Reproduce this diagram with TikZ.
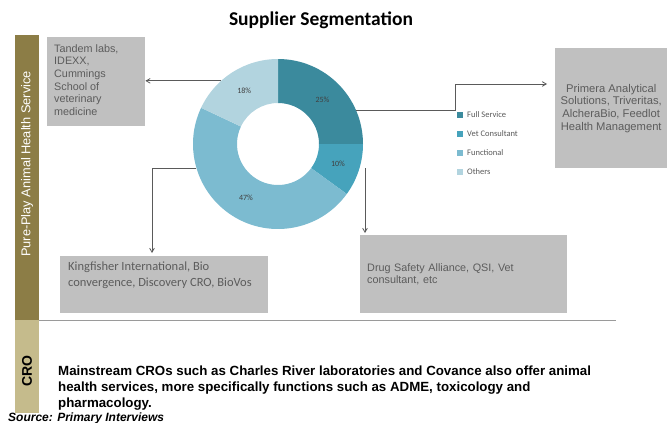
\documentclass[tikz,border=0pt]{standalone}
\usepackage{fontspec}
\setmainfont{Liberation Sans}
\newfontfamily\calibri{Carlito}
\usetikzlibrary{arrows}

\definecolor{barolive}{HTML}{8C7D46}
\definecolor{bartan}{HTML}{C5BB8C}
\definecolor{boxgray}{HTML}{C0C0C0}
\definecolor{boxtxt}{HTML}{5C5C5C}
\definecolor{linkgray}{HTML}{5A5A5A}
\definecolor{sepgray}{HTML}{9A9A9A}
\definecolor{segfull}{HTML}{3B8A9D}
\definecolor{segvet}{HTML}{46A3BC}
\definecolor{segfunc}{HTML}{7CBBD0}
\definecolor{segother}{HTML}{B2D4DF}

\begin{document}
\begin{tikzpicture}[x=1pt, y=-1pt, >=angle 60,
  box/.style={fill=boxgray, inner sep=0pt, anchor=north west},
  boxtext/.style={text=boxtxt, font=\fontsize{10.8}{12.7}\selectfont, align=left, inner sep=0pt},
  link/.style={->, draw=linkgray, line width=0.8pt},
  pct/.style={font=\calibri\fontsize{8}{9}\selectfont, text=black!75},
  legend/.style={font=\calibri\fontsize{8.5}{10}\selectfont, text=black!65, inner sep=0pt}]

\useasboundingbox (0,0) rectangle (667,423);

% title
\node[font=\calibri\bfseries\fontsize{19.5}{22}\selectfont] (title) at (321,20) {Supplier Segmentation};

% side bars
\fill[barolive] (15,35) rectangle (39,320);
\fill[bartan] (15,320) rectangle (39,413);
\node[rotate=90, text=white, font=\fontsize{12.8}{14}\selectfont] (pureplay) at (27,164) {Pure-Play Animal Health Service};
\node[rotate=90, font=\bfseries\fontsize{14}{16}\selectfont] (cro) at (27,371) {CRO};
\draw[sepgray, line width=0.9pt] (39,320) -- (616,320);

% donut
\coordinate (c) at (278,144);
\foreach \a/\b/\col/\p in {-90/0/segfull/25, 0/36/segvet/10, 36/205.2/segfunc/47, 205.2/270/segother/18}{
  \fill[\col] ([shift={(\a:85)}]c) arc[start angle=\a, end angle=\b, radius=85]
    -- ([shift={(\b:41)}]c) arc[start angle=\b, end angle=\a, radius=41] -- cycle;
  \node[pct] at ([shift={({(\a+\b)/2}:63)}]c) {\p\%};
}
\coordinate (fulledge) at ([shift={(-23:85)}]c);
\coordinate (otheredge) at ([shift={(228:85)}]c);
\coordinate (funcedge) at ([shift={(163.6:85)}]c);
\coordinate (vetstart) at (365,168);

% legend
\foreach \col/\name [count=\i] in {segfull/Full Service, segvet/Vet Consultant, segfunc/Functional, segother/Others}{
  \node[fill=\col, minimum size=6pt, inner sep=0pt] (key\i) at (460,{96+19*\i}) {};
  \node[legend, anchor=west] (keytext\i) at (467,{96+19*\i}) {\name};
}

% supplier boxes
\node[box, minimum width=98pt, minimum height=89pt] (tandem) at (47,37) {};
\node[boxtext, anchor=north west] (tandemtext) at ([shift={(7,7)}]tandem.north west)
  {Tandem labs,\\IDEXX,\\Cummings\\School of\\veterinary\\medicine};
\node[box, boxtext, align=center, font=\fontsize{11.2}{12.7}\selectfont, minimum width=112pt, minimum height=120pt] (primera) at (555,48)
  {Primera Analytical\\Solutions, Triveritas,\\AlcheraBio, Feedlot\\Health Management};
\node[box, boxtext, text width=193pt, minimum width=207pt, minimum height=78pt] (drug) at (360,235)
  {Drug Safety Alliance, QSI, Vet\\consultant, etc};
\node[box, minimum width=208pt, minimum height=57pt] (king) at (60,256) {};
\node[boxtext, font=\calibri\fontsize{12.5}{16}\selectfont, anchor=north west] (kingtext) at ([shift={(8,6)}]king.north west)
  {Kingfisher International, Bio\\convergence, Discovery CRO, BioVos};

% connectors
\coordinate (fullend) at (547,84);
\coordinate (funcend) at (152,253);
\coordinate (vetend) at (365,233);
\draw[link] (otheredge) -- (tandem.east |- otheredge);
\draw[link] (fulledge) -- ++(99,0) |- (fullend);
\draw[link] (funcedge) -| (funcend);
\draw[link] (vetstart) -- (vetend);

% CRO row
\node[anchor=north west, align=left, inner sep=0pt, font=\bfseries\fontsize{13.3}{16}\selectfont] (crotext) at (58,366)
  {Mainstream CROs such as Charles River laboratories and Covance also offer animal\\health services, more specifically functions such as ADME, toxicology and\\pharmacology.};
\node[anchor=west, inner sep=0pt, font=\bfseries\itshape\fontsize{12}{13}\selectfont] (source) at (8,418) {Source: Primary Interviews};
\end{tikzpicture}
\end{document}
